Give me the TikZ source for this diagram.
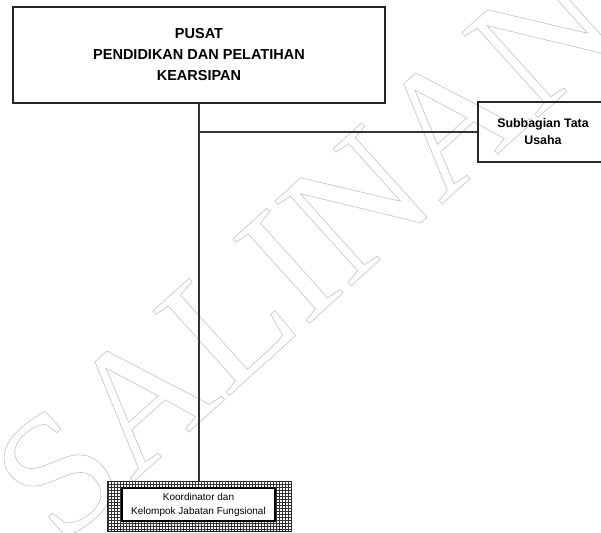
\documentclass[tikz,border=0pt]{standalone}
\usepackage{fontspec}
\setmainfont{Liberation Sans}
\newfontfamily\wmfont{Liberation Serif}
\usetikzlibrary{patterns}
\newcommand{\wmoutline}[1]{\special{pdf:code q 1 Tr 0.6 w 0.76 G}#1\special{pdf:code 0 Tr Q}}
\tikzset{
  unitbox/.style={draw=black!85, line width=1.3pt, align=center, inner sep=0pt},
  conn/.style={draw=black!80, line width=1.1pt},
}
\begin{document}
\begin{tikzpicture}[x=1pt, y=-1pt]
\useasboundingbox (0,0) rectangle (601,532);
% watermark
\node[rotate=42, inner sep=0pt] (wm) at (306,250)
  {\wmfont\fontsize{174}{174}\selectfont\wmoutline{SALINAN}};
% boxes
\node[unitbox, minimum width=372pt, minimum height=96pt,
      font=\bfseries\fontsize{14.5}{21}\selectfont] (pusat) at (199,55)
  {PUSAT\\PENDIDIKAN DAN PELATIHAN\\KEARSIPAN};
\node[unitbox, minimum width=130pt, minimum height=60pt,
      font=\bfseries\fontsize{12.4}{17}\selectfont] (tu) at (543,132)
  {Subbagian Tata\\Usaha};
\node[draw=black!85, line width=1pt, pattern=grid, pattern color=black!80,
      minimum width=184pt, minimum height=50pt] (kor) at (199,506) {};
\node[draw=black, line width=1.6pt, fill=white, minimum width=153pt,
      minimum height=33pt, align=center, inner sep=0pt,
      font=\fontsize{10}{14}\selectfont] (kortext) at (198.5,504.5)
  {Koordinator dan\\Kelompok Jabatan Fungsional};
% connectors
\draw[conn] (pusat.south) -- (kor.north);
\draw[conn] (pusat.south |- tu.west) -- (tu.west);
\end{tikzpicture}
\end{document}
